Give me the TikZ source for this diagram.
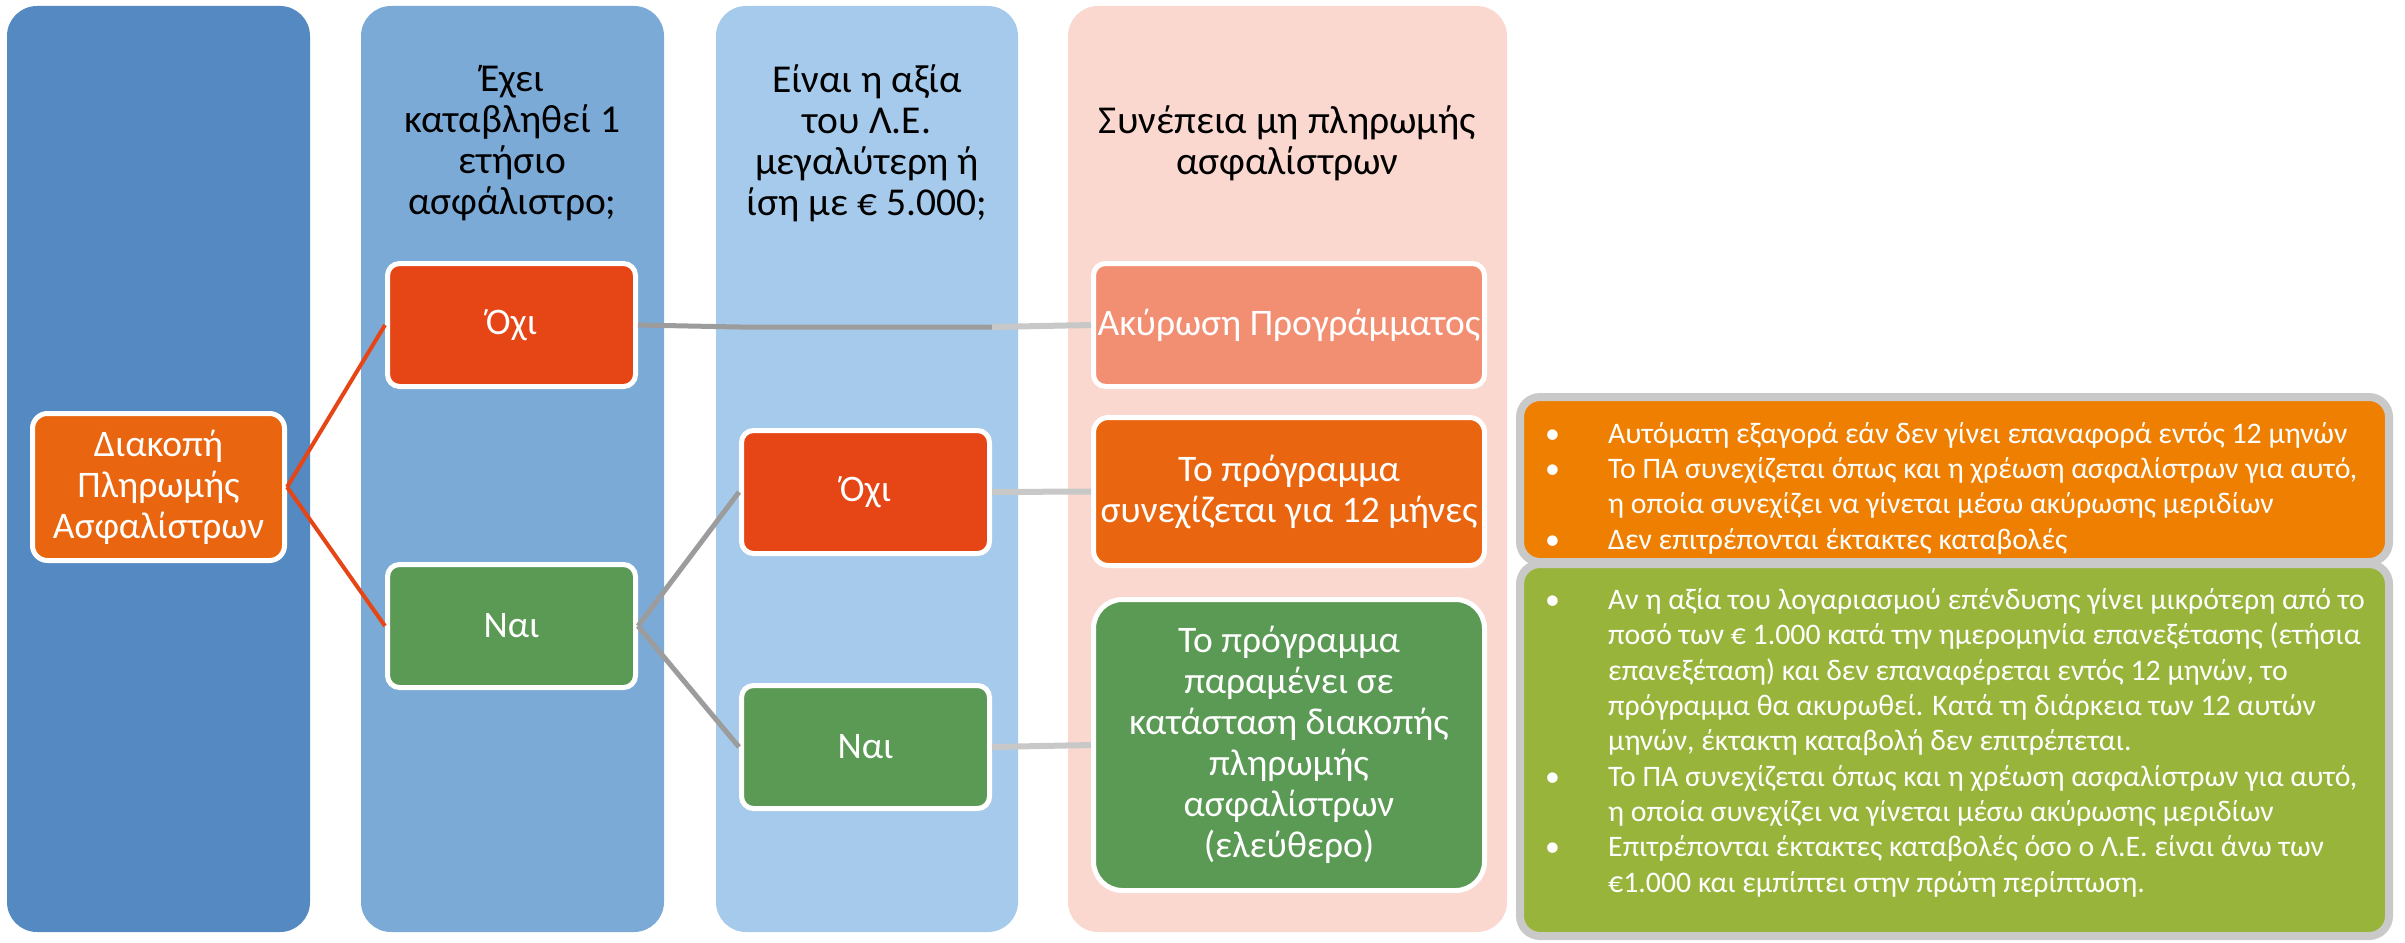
\documentclass[tikz,border=0pt]{standalone}
\usepackage{fontspec}
\setmainfont{Carlito}
\definecolor{cola}{HTML}{5489C1}
\definecolor{colb}{HTML}{7BAAD6}
\definecolor{colc}{HTML}{A6CAEB}
\definecolor{cold}{HTML}{FAD8D0}
\definecolor{redn}{HTML}{E64516}
\definecolor{orn}{HTML}{EA650F}
\definecolor{grn}{HTML}{5B9A54}
\definecolor{salm}{HTML}{F28F73}
\definecolor{orbox}{HTML}{EE7F00}
\definecolor{grbox}{HTML}{98B43A}
\definecolor{framegray}{HTML}{C9C9C9}
\definecolor{dkgray}{HTML}{9C9C9C}
\definecolor{ltgray}{HTML}{C8C8C8}
\newcommand{\bulx}{\makebox[63pt][l]{•}}
\newcommand{\indx}{\hspace*{63pt}}
\begin{document}
\begin{tikzpicture}[x=1pt,y=-1pt,
  column/.style={rounded corners=30pt},
  nbox/.style={draw=white, line width=5pt, text=white, align=center, inner sep=0pt,
     font=\fontsize{37.5}{41}\selectfont},
  small/.style={nbox, minimum width=248pt, minimum height=123pt, rounded corners=12pt},
  wide/.style={nbox, minimum width=391pt, rounded corners=#1},
  header/.style={text=black, align=center, inner sep=0pt, font=\fontsize{39.5}{41}\selectfont},
  rbox/.style={draw=framegray, line width=8pt, rounded corners=20pt, inner sep=0pt, minimum width=869pt},
  btext/.style={text=white, align=left, inner sep=0pt, font=\fontsize{29.8}{35.3}\selectfont},
  redline/.style={draw=redn, line width=4pt},
  dkline/.style={draw=dkgray, line width=5pt},
  ltline/.style={draw=ltgray, line width=6pt}
]
\useasboundingbox (0,0) rectangle (2405,942);
% columns
\fill[cola, column] (7,6) rectangle (310,932);
\fill[colb, column] (361,6) rectangle (664,932);
\fill[colc, column] (716,6) rectangle (1018,932);
\fill[cold, column] (1068,6) rectangle (1507,932);
% headers
\node[header] (h2) at (512.5,143) {Έχει\\καταβληθεί 1\\ετήσιο\\ασφάλιστρο;};
\node[header] (h3) at (867,143) {Είναι η αξία\\του Λ.Ε.\\μεγαλύτερη ή\\ίση με € 5.000;};
\node[header] (h4) at (1287.5,143) {Συνέπεια μη πληρωμής\\ασφαλίστρων};
% coordinates for the hidden step
\coordinate (hw) at (739,327);
\coordinate (he) at (992,327);
% nodes
\node[nbox, fill=orn, minimum width=252pt, minimum height=147pt, rounded corners=15pt] (dia) at (158.5,487) {Διακοπή\\Πληρωμής\\Ασφαλίστρων};
\node[small, fill=redn] (o2) at (511.5,325) {Όχι};
\node[small, fill=grn] (n2) at (511.5,626) {Ναι};
\node[small, fill=redn] (o3) at (865.5,492) {Όχι};
\node[small, fill=grn] (n3) at (865.5,747) {Ναι};
\node[wide=12pt, fill=salm, minimum height=123pt] (ak) at (1289,325) {Ακύρωση Προγράμματος};
\node[wide=15pt, fill=orn, minimum height=148pt] (pc) at (1289,491.5) {Το πρόγραμμα\\συνεχίζεται για 12 μήνες};
\node[wide=29pt, fill=grn, minimum height=291pt] (pg) at (1289,745) {Το πρόγραμμα\\παραμένει σε\\κατάσταση διακοπής\\πληρωμής\\ασφαλίστρων\\(ελεύθερο)};
% connectors
\draw[redline] (dia.east) -- (o2.west);
\draw[redline] (dia.east) -- (n2.west);
\draw[dkline] (o2.east) -- (hw) -- (he);
\draw[ltline] (he) -- (ak.west);
\draw[dkline] (n2.east) -- (o3.west);
\draw[dkline] (n2.east) -- (n3.west);
\draw[ltline] (o3.east) -- (pc.west);
\draw[ltline] (n3.east) -- (pg.west);
% right boxes
\node[rbox, fill=orbox, minimum height=165pt] (rbo) at (1954.5,479.5) {};
\node[rbox, fill=grbox, minimum height=372pt] (rbg) at (1954.5,750) {};
\node[btext, anchor=base west] (tro) at (1545,549) {\bulx Αυτόματη εξαγορά εάν δεν γίνει επαναφορά εντός 12 μηνών\\
\bulx Το ΠΑ συνεχίζεται όπως και η χρέωση ασφαλίστρων για αυτό,\\
\indx η οποία συνεχίζει να γίνεται μέσω ακύρωσης μεριδίων\\
\bulx Δεν επιτρέπονται έκτακτες καταβολές};
\node[btext, anchor=base west] (trg) at (1545,892) {\bulx Αν η αξία του λογαριασμού επένδυσης γίνει μικρότερη από το\\
\indx ποσό των € 1.000 κατά την ημερομηνία επανεξέτασης (ετήσια\\
\indx επανεξέταση) και δεν επαναφέρεται εντός 12 μηνών, το\\
\indx πρόγραμμα θα ακυρωθεί. Κατά τη διάρκεια των 12 αυτών\\
\indx μηνών, έκτακτη καταβολή δεν επιτρέπεται.\\
\bulx Το ΠΑ συνεχίζεται όπως και η χρέωση ασφαλίστρων για αυτό,\\
\indx η οποία συνεχίζει να γίνεται μέσω ακύρωσης μεριδίων\\
\bulx Επιτρέπονται έκτακτες καταβολές όσο ο Λ.Ε. είναι άνω των\\
\indx €1.000 και εμπίπτει στην πρώτη περίπτωση.};
\end{tikzpicture}
\end{document}
